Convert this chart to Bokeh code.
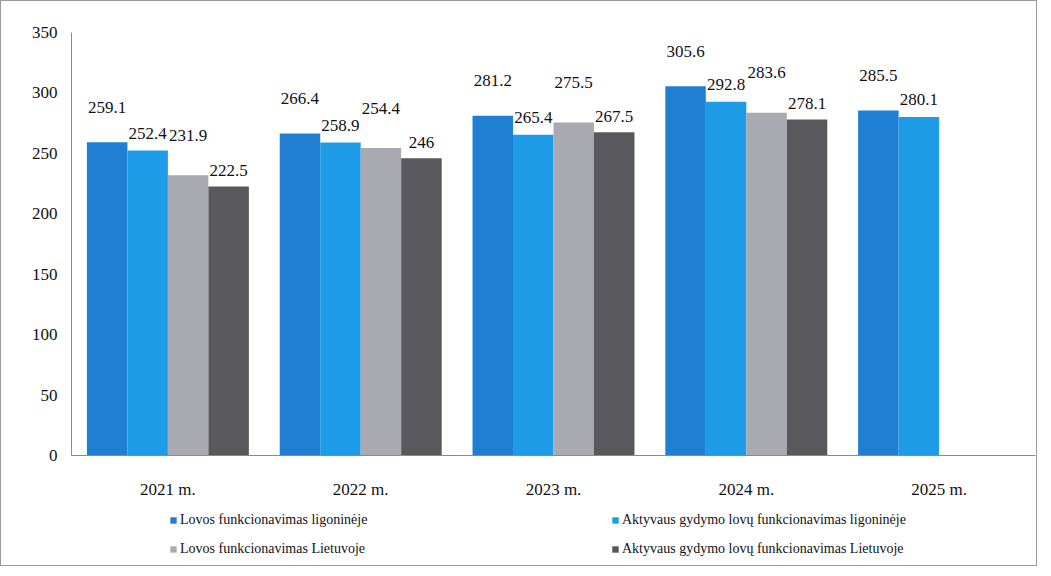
from bokeh.plotting import figure
from bokeh.layouts import column
from bokeh.models import ColumnDataSource, FactorRange, FixedTicker, Legend, LegendItem, Range1d
from bokeh.transform import dodge
from bokeh.core.properties import value
from bokeh.embed import file_html
from bokeh.resources import INLINE
import math

categories = ["2021 m.", "2022 m.", "2023 m.", "2024 m.", "2025 m."]
series_names = [
    "Lovos funkcionavimas ligoninėje",
    "Aktyvaus gydymo lovų funkcionavimas ligoninėje",
    "Lovos funkcionavimas Lietuvoje",
    "Aktyvaus gydymo lovų funkcionavimas Lietuvoje",
]
lovos_ligonineje = [259.1, 266.4, 281.2, 305.6, 285.5]
aktyvaus_ligonineje = [252.4, 258.9, 265.4, 292.8, 280.1]
lovos_lietuvoje = [231.9, 254.4, 275.5, 283.6, float("nan")]
aktyvaus_lietuvoje = [222.5, 246, 267.5, 278.1, float("nan")]
y_ticks = [0, 50, 100, 150, 200, 250, 300, 350]

series_values = [lovos_ligonineje, aktyvaus_ligonineje, lovos_lietuvoje, aktyvaus_lietuvoje]
colors = ["#1f7fd3", "#1e9ce7", "#a9a9b2", "#58585d"]
offsets = [-0.315, -0.105, 0.105, 0.315]
label_lift = [35, 17, 40, 16]
FONT = "Liberation Serif"

p = figure(
    x_range=FactorRange(*categories, range_padding=0),
    y_range=(0, 350),
    width=1035, height=500,
    output_backend="svg", toolbar_location=None,
    min_border_left=70, min_border_right=1, min_border_top=31, min_border_bottom=44,
)
p.outline_line_color = None
p.xgrid.grid_line_color = None
p.ygrid.grid_line_color = None

renderers = []
for vals, col, off, lift in zip(series_values, colors, offsets, label_lift):
    src = ColumnDataSource(dict(cat=categories, val=vals))
    r = p.vbar(x=dodge("cat", off, range=p.x_range), top="val", width=0.21,
               source=src, fill_color=col, line_color=None)
    renderers.append(r)
    lc = [c for c, v in zip(categories, vals) if not math.isnan(v)]
    lv = [v for v in vals if not math.isnan(v)]
    lsrc = ColumnDataSource(dict(cat=lc, val=lv, txt=[f"{v:g}" for v in lv]))
    p.text(x=dodge("cat", off, range=p.x_range), y="val", text="txt", source=lsrc,
           text_align="center", text_baseline="middle", y_offset=-lift,
           text_font=value(FONT), text_font_size="17px", text_color="#111111")

p.yaxis.ticker = FixedTicker(ticks=y_ticks)
for ax in (p.xaxis[0], p.yaxis[0]):
    ax.axis_line_color = "#8a8a8a"
    ax.major_tick_line_color = None
    ax.minor_tick_line_color = None
    ax.major_tick_out = 0
    ax.major_tick_in = 0
    ax.major_label_text_font = FONT
    ax.major_label_text_font_size = "17px"
    ax.major_label_text_color = "#111111"
p.yaxis.major_label_standoff = 14
p.xaxis.major_label_standoff = 24

# legend panel below the chart (its frame is aligned with the chart frame)
lg = figure(width=1035, height=64, output_backend="svg", toolbar_location=None,
            x_range=Range1d(0, 1), y_range=Range1d(0, 1),
            x_axis_location=None, y_axis_location=None,
            min_border_left=0, min_border_right=0, min_border_top=0, min_border_bottom=0)
lg.outline_line_color = None
lg.xgrid.grid_line_color = None
lg.ygrid.grid_line_color = None
# swatch renderers placed outside the visible range, used only for legend swatches
dummy = [lg.vbar(x=[5], top=[0], width=0.1, fill_color=c, line_color=None) for c in colors]

def make_legend(idx, x):
    L = Legend(items=[LegendItem(label=series_names[i], renderers=[dummy[i]]) for i in idx],
               location=(x, 2), orientation="vertical",
               glyph_width=8, glyph_height=8, label_standoff=3, spacing=0,
               label_height=29, padding=0, margin=0,
               border_line_color=None, background_fill_alpha=0,
               label_text_font=FONT, label_text_font_size="14px",
               label_text_color="#111111")
    lg.add_layout(L, "center")

make_legend([0, 2], 98)
make_legend([1, 3], 540)

layout = column(p, lg, spacing=0)
layout.styles = {"border": "1px solid #9a9a9a"}

open("out.html", "w").write(file_html(layout, INLINE))
